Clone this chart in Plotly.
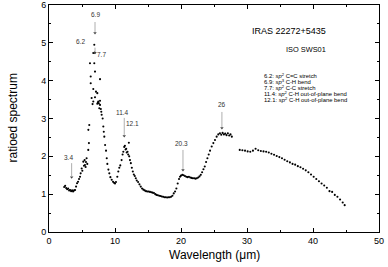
import plotly.graph_objects as go

# ---- data ----
wl_nir = [2.3, 2.45, 2.6, 2.75, 2.9, 3.05, 3.2, 3.35, 3.5, 3.65, 3.8, 3.95, 4.1, 4.25, 4.4,
          4.55, 4.7, 4.8, 4.95, 5.05, 5.2, 5.3, 5.4, 5.45, 5.55, 5.6, 5.7, 5.8, 5.95, 6.05,
          5.96, 6.1]
rs_nir = [1.19, 1.22, 1.16, 1.13, 1.15, 1.10, 1.11, 1.08, 1.10, 1.07, 1.10, 1.11, 1.20, 1.29, 1.33,
          1.40, 1.46, 1.55, 1.68, 1.62, 1.86, 1.75, 1.90, 1.77, 1.72, 1.85, 1.95, 1.80, 2.17, 2.35,
          2.70, 2.83]

wl_peak = [6.86, 6.71, 6.92, 6.21, 6.86, 6.97, 6.32, 7.73, 6.32, 6.71, 7.12, 7.32, 6.46, 6.97,
           6.71, 7.47, 7.73, 7.32, 7.73, 7.62, 7.92, 6.60, 7.40, 7.55, 7.85]
rs_peak = [4.95, 4.73, 4.74, 4.46, 4.46, 4.24, 4.11, 4.04, 3.93, 3.78, 3.71, 3.67, 3.54, 3.56,
           3.45, 3.45, 3.47, 3.39, 3.36, 3.27, 3.18, 3.38, 3.42, 3.40, 3.25]

wl_mir = [7.98, 8.13, 8.23, 8.3, 8.38, 8.5, 8.64, 8.75, 8.84, 9.0, 9.14, 9.3, 9.5, 9.7, 9.85,
          10.0, 10.15, 10.35, 10.5, 10.65, 10.8, 11.0, 11.15, 11.26, 11.4, 11.5, 11.6, 11.7, 11.77,
          11.9, 12.0, 12.1, 12.15, 12.27, 12.4, 12.55, 12.7, 12.85, 13.0, 13.15, 13.3, 13.5, 13.7,
          13.9, 14.1, 14.3, 14.5, 14.7, 14.9, 15.1, 15.3, 15.5, 15.7, 15.9, 16.1, 16.3, 16.5, 16.7,
          16.9, 17.1, 17.3, 17.5, 17.7, 17.9, 18.1, 18.3, 18.5, 18.7, 18.9, 19.1, 19.3, 19.5, 19.7,
          19.85, 20.0, 20.2, 20.4, 20.6, 20.8, 21.0, 21.2, 21.4, 21.6, 21.8, 22.0, 22.2, 22.4, 22.6,
          22.8, 23.0, 23.2, 23.4, 23.6, 23.8, 24.0, 24.2, 24.4, 24.65, 24.9, 25.15, 25.4, 25.65,
          25.9, 26.1, 26.3, 26.5, 26.7, 26.9, 27.1, 27.3, 27.5, 27.7]
rs_mir = [3.10, 3.00, 2.79, 2.65, 2.52, 2.30, 2.15, 1.95, 1.80, 1.65, 1.55, 1.45, 1.38, 1.33, 1.30,
          1.28, 1.32, 1.46, 1.60, 1.70, 1.76, 1.90, 2.05, 2.12, 2.25, 2.28, 2.18, 2.20, 2.10,
          2.12, 2.05, 2.36, 2.00, 1.90, 1.82, 1.70, 1.60, 1.52, 1.48, 1.42, 1.36, 1.32, 1.26,
          1.20, 1.15, 1.12, 1.10, 1.08, 1.07, 1.07, 1.06, 1.05, 1.04, 1.03, 1.00, 0.98, 0.97, 0.96,
          0.95, 0.94, 0.93, 0.92, 0.92, 0.91, 0.92, 0.92, 0.93, 0.96, 1.02, 1.07, 1.15, 1.28, 1.40,
          1.46, 1.49, 1.51, 1.50, 1.48, 1.46, 1.45, 1.46, 1.44, 1.43, 1.42, 1.42, 1.41, 1.42, 1.44,
          1.47, 1.51, 1.58, 1.66, 1.73, 1.85, 1.95, 2.05, 2.15, 2.26, 2.35, 2.43, 2.52, 2.58,
          2.61, 2.57, 2.62, 2.58, 2.60, 2.56, 2.61, 2.55, 2.58, 2.52]

wl_far = [28.9, 29.3, 29.7, 30.1, 30.5, 30.9, 31.3, 31.7, 32.1, 32.5, 32.9, 33.3, 33.7, 34.1,
          34.5, 34.9, 35.3, 35.7, 36.1, 36.5, 36.9, 37.3, 37.7, 38.1, 38.5, 38.9, 39.3, 39.7,
          40.1, 40.5, 40.9, 41.3, 41.7, 42.1, 42.5, 42.9, 43.3, 43.7, 44.1, 44.5, 44.8]
rs_far = [2.17, 2.16, 2.15, 2.13, 2.12, 2.15, 2.20, 2.16, 2.14, 2.13, 2.12, 2.10, 2.07, 2.04,
          2.01, 1.98, 1.95, 1.91, 1.87, 1.84, 1.80, 1.78, 1.74, 1.71, 1.67, 1.63, 1.58, 1.52,
          1.46, 1.40, 1.34, 1.28, 1.23, 1.17, 1.08, 1.06, 0.98, 0.93, 0.86, 0.78, 0.71]

# feature labels: (text, label x, label y)
feat_labels = [("3.4", 2.9, 1.98), ("6.9", 6.97, 5.74), ("6.2", 4.7, 5.03), ("7.7", 8.0, 4.68),
               ("11.4", 11.06, 3.17), ("12.1", 12.6, 2.88), ("20.3", 20.15, 2.35), ("26", 26.2, 3.36)]
# feature pointer lines: tip x, tip y, length (px)
tip_x = [3.43, 6.97, 6.97, 11.4, 20.3, 26.2]
tip_y = [1.45, 5.26, 4.74, 2.54, 1.64, 2.75]
tip_len = [14, 11, 5, 18, 20, 16]

legend_lines = ["6.2: <i>sp</i><sup>2</sup> C=C stretch",
                "6.9: <i>sp</i><sup>3</sup> C-H bend",
                "7.7: <i>sp</i><sup>2</sup> C-C stretch",
                "11.4: <i>sp</i><sup>2</sup> C-H out-of-plane bend",
                "12.1: <i>sp</i><sup>2</sup> C-H out-of-plane bend"]
legend_y = [4.14, 3.98, 3.82, 3.66, 3.50]

FONT = "Liberation Sans, Arial, sans-serif"
NARROW = "Liberation Sans Narrow, Arial Narrow, Liberation Sans, sans-serif"

fig = go.Figure()
for wx, ry in [(wl_nir, rs_nir), (wl_peak, rs_peak), (wl_mir, rs_mir), (wl_far, rs_far)]:
    fig.add_trace(go.Scatter(x=wx, y=ry, mode="markers",
                             marker=dict(color="black", size=2.1), showlegend=False))

# pointer lines (pixel-length vertical lines anchored at the tip)
for x, y, L in zip(tip_x, tip_y, tip_len):
    fig.add_shape(type="line", xref="x", yref="y", xsizemode="scaled", ysizemode="pixel",
                  yanchor=y, x0=x, x1=x, y0=1, y1=L, line=dict(color="#999", width=0.8))
# arrow tips
fig.add_trace(go.Scatter(x=tip_x, y=tip_y, mode="markers", showlegend=False,
                         marker=dict(symbol="triangle-down", size=3, color="#444")))

ann = []
for t, x, y in feat_labels:
    ann.append(dict(x=x, y=y, text=t, showarrow=False, font=dict(size=6.5, color="#333", family=FONT)))
for t, y in zip(legend_lines, legend_y):
    ann.append(dict(x=32.2, y=y, text=t, showarrow=False, xanchor="left",
                    font=dict(size=5.9, color="black", family=FONT)))
ann.append(dict(x=42.2, y=5.3, text="IRAS 22272+5435", showarrow=False, xanchor="right",
                font=dict(size=9, color="black", family=NARROW)))
ann.append(dict(x=42.2, y=4.82, text="ISO SWS01", showarrow=False, xanchor="right",
                font=dict(size=7.4, color="black", family=NARROW)))
# axis titles
ann.append(dict(xref="paper", yref="paper", x=0.5, y=0, yshift=-23, yanchor="middle",
                text="Wavelength (μm)", showarrow=False,
                font=dict(size=12, color="black", family=FONT)))
ann.append(dict(xref="paper", yref="paper", x=0, y=0.5, xshift=-37, xanchor="center",
                yanchor="middle", text="ratioed spectrum", textangle=-90, showarrow=False,
                font=dict(size=12, color="black", family=FONT)))

axis_common = dict(showline=True, linecolor="black", linewidth=1, mirror="allticks",
                   ticks="inside", ticklen=4, tickcolor="black", showgrid=False, zeroline=False,
                   automargin=False, tickfont=dict(size=9, color="black", family=FONT))
fig.update_layout(
    width=388, height=267, margin=dict(l=49, r=9, t=5, b=35),
    paper_bgcolor="white", plot_bgcolor="white",
    font=dict(family=FONT, color="black"),
    annotations=ann,
    xaxis=dict(range=[0, 50], dtick=10, minor=dict(dtick=5, ticks="inside", ticklen=2, tickcolor="black"),
               **axis_common),
    yaxis=dict(range=[0, 6], dtick=1, minor=dict(dtick=0.5, ticks="inside", ticklen=2, tickcolor="black"),
               **axis_common),
)
fig.write_html("out.html", config={"displayModeBar": False},
               post_script="document.body.style.margin='0';")
